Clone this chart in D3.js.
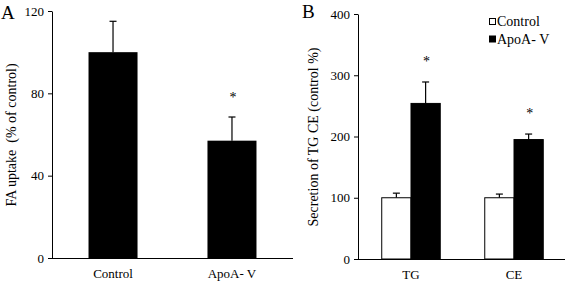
<!DOCTYPE html>
<html><head><meta charset="utf-8">
<script src="https://cdn.jsdelivr.net/npm/d3@7"></script>
<style>
html,body{margin:0;padding:0;background:#fff;}
svg{display:block;font-family:"Liberation Serif","Times New Roman",serif;}
</style></head>
<body>
<svg id="c" width="567" height="284"></svg>
<script>
// Panel A data
const catsA = ["Control", "ApoA-V"];
const valsA = [100, 57];
const errA = [15, 11.5];
const sigA = [false, true];
const ticksA = [0, 40, 80, 120];

// Panel B data
const groupsB = ["TG", "CE"];
const seriesB = ["Control", "ApoA-V"];
const controlB = [100, 100];
const apoB = [254, 195];
const controlErrB = [7.5, 6];
const apoErrB = [35, 9];
const sigB = [true, true];
const ticksB = [0, 100, 200, 300, 400];

const svg = d3.select("#c");
const font = 13;

// ---------- Panel A ----------
const axA = 52, y0A = 258, y1A = 11, xEndA = 293;
const yA = d3.scaleLinear().domain([0, 120]).range([y0A, y1A]);
const xA = d3.scaleBand().domain(catsA).range([axA, xEndA]).paddingInner(0.588).paddingOuter(0.307);
const gA = svg.append("g");

gA.selectAll("rect.bar").data(catsA).join("rect")
  .attr("x", d => xA(d)).attr("width", xA.bandwidth())
  .attr("y", (d,i) => yA(valsA[i])).attr("height", (d,i) => y0A - yA(valsA[i]))
  .attr("fill", "#000");

catsA.forEach((c,i) => {
  const cx = xA(c) + xA.bandwidth()/2;
  const top = yA(valsA[i] + errA[i]);
  gA.append("line").attr("x1", cx).attr("x2", cx).attr("y1", yA(valsA[i])).attr("y2", top).attr("stroke","#000").attr("stroke-width",1.2);
  gA.append("line").attr("x1", cx-3.5).attr("x2", cx+3.5).attr("y1", top).attr("y2", top).attr("stroke","#000").attr("stroke-width",1.2);
  if (sigA[i]) gA.append("text").attr("x", cx+1).attr("y", top-15).attr("text-anchor","middle").attr("font-size",14).text("*");
  gA.append("text").attr("x", cx).attr("y", 278).attr("text-anchor","middle").attr("font-size",font).text(c === "ApoA-V" ? "ApoA- V" : c);
});

const axisA = gA.append("g").attr("transform", `translate(${axA},0)`)
  .call(d3.axisLeft(yA).tickValues(ticksA).tickSize(4).tickSizeOuter(0).tickPadding(4).tickFormat(d3.format("d")));
axisA.selectAll("text").attr("font-size", font).attr("font-family","Liberation Serif").attr("fill","#000");
axisA.selectAll("path,line").attr("stroke","#000");
gA.append("line").attr("x1", axA).attr("x2", xEndA).attr("y1", y0A+0.5).attr("y2", y0A+0.5).attr("stroke","#000");
gA.append("text").attr("transform","translate(11,135) rotate(-90)").attr("text-anchor","middle").attr("dy","0.35em").attr("font-size",14).attr("xml:space","preserve").text("FA uptake  (% of control)");
gA.append("text").attr("x", 1).attr("y", 18.5).attr("font-size", 19).text("A");

// ---------- Panel B ----------
const axB = 358, y0B = 259, y1B = 14, xEndB = 565;
const yB = d3.scaleLinear().domain([0, 400]).range([y0B, y1B]);
const xB = d3.scaleBand().domain(groupsB).range([360, 565]).paddingInner(0.432).paddingOuter(0.211);
const xSub = d3.scaleBand().domain(seriesB).range([0, xB.bandwidth()]).padding(0);
const gB = svg.append("g");

groupsB.forEach((g,i) => {
  const vals = [controlB[i], apoB[i]];
  const errs = [controlErrB[i], apoErrB[i]];
  seriesB.forEach((s,j) => {
    const x = xB(g) + xSub(s);
    const w = xSub.bandwidth();
    const cx = x + w/2;
    const top = yB(vals[j] + errs[j]);
    gB.append("line").attr("x1", cx).attr("x2", cx).attr("y1", yB(vals[j])).attr("y2", top).attr("stroke","#000").attr("stroke-width",1.2);
    gB.append("line").attr("x1", cx-3.5).attr("x2", cx+3.5).attr("y1", top).attr("y2", top).attr("stroke","#000").attr("stroke-width",1.2);
    gB.append("rect").attr("x", x).attr("width", w).attr("y", yB(vals[j])).attr("height", y0B - yB(vals[j]))
      .attr("fill", j === 0 ? "#fff" : "#000").attr("stroke","#000").attr("stroke-width",1);
    if (j === 1 && sigB[i]) gB.append("text").attr("x", cx+1).attr("y", top-16).attr("text-anchor","middle").attr("font-size",14).text("*");
  });
  gB.append("text").attr("x", xB(g) + xB.bandwidth()/2).attr("y", 279).attr("text-anchor","middle").attr("font-size",font).text(g);
});

const axisB = gB.append("g").attr("transform", `translate(${axB},0)`)
  .call(d3.axisLeft(yB).tickValues(ticksB).tickSize(4).tickSizeOuter(0).tickPadding(4).tickFormat(d3.format("d")));
axisB.selectAll("text").attr("font-size", font).attr("font-family","Liberation Serif").attr("fill","#000");
axisB.selectAll("path,line").attr("stroke","#000");
gB.append("line").attr("x1", axB).attr("x2", xEndB).attr("y1", y0B+0.5).attr("y2", y0B+0.5).attr("stroke","#000");
gB.append("text").attr("transform","translate(313,137) rotate(-90)").attr("text-anchor","middle").attr("dy","0.35em").attr("font-size",14).text("Secretion of TG CE (control %)");
gB.append("text").attr("x", 302).attr("y", 17.5).attr("font-size", 19).text("B");

// Legend
const legLabels = ["Control", "ApoA- V"];
const legFills = ["#fff", "#000"];
legLabels.forEach((l,i) => {
  const yy = 18.5 + i*17.5;
  gB.append("rect").attr("x", 489.5).attr("y", yy).attr("width", 6).attr("height", 6).attr("fill", legFills[i]).attr("stroke","#000");
  gB.append("text").attr("x", 497).attr("y", yy+7.5).attr("font-size", 14).text(l);
});
</script>
</body></html>
